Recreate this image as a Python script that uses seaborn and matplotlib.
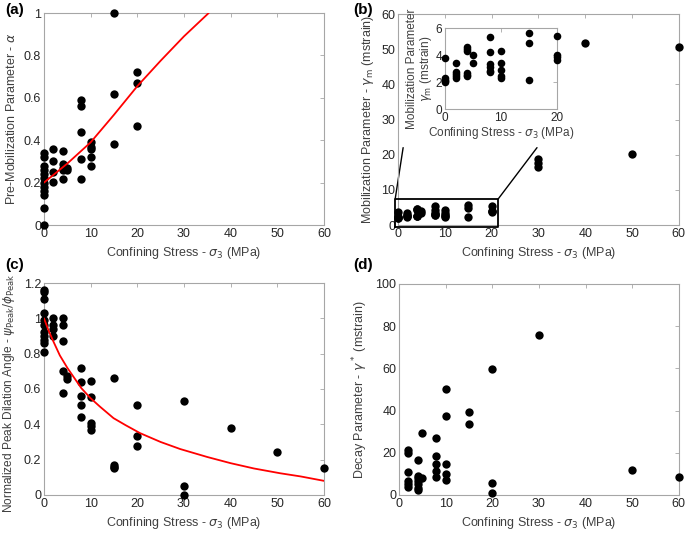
import numpy as np
import pandas as pd
import matplotlib
matplotlib.use('Agg')
import matplotlib.pyplot as plt
from matplotlib.ticker import FuncFormatter
import seaborn as sns

# (a) pre-mobilization parameter alpha
a_sigma = [0]*12 + [2]*4 + [4]*5 + [5]*2 + [8]*5 + [10]*5 + [15]*3 + [20]*3
a_alpha = [0, 0.08, 0.14, 0.16, 0.18, 0.20, 0.22, 0.24, 0.26, 0.28, 0.32, 0.34,
           0.36, 0.30, 0.25, 0.205,
           0.35, 0.29, 0.27, 0.26, 0.215,
           0.27, 0.26,
           0.59, 0.56, 0.44, 0.31, 0.215,
           0.39, 0.37, 0.36, 0.32, 0.28,
           1.0, 0.62, 0.38,
           0.72, 0.67, 0.465]
a_fit_x = [0, 5, 10, 15, 20, 25, 30, 35.3]
a_fit_y = [0.2, 0.29, 0.39, 0.52, 0.655, 0.775, 0.89, 1.0]

# (b) mobilization parameter gamma_m  (low stress part also in inset)
b_in_sigma = [0]*5 + [2]*5 + [4]*6 + [5]*2 + [8]*6 + [10]*5 + [15]*3 + [20]*4
b_in_gamma = [3.8, 2.35, 2.2, 2.1, 2.0,
              3.45, 2.8, 2.65, 2.5, 2.35,
              4.6, 4.45, 4.35, 2.7, 2.55, 2.45,
              4.0, 3.4,
              5.35, 4.25, 3.35, 3.1, 2.85, 2.75,
              4.35, 3.4, 2.9, 2.45, 2.3,
              5.65, 4.95, 2.2,
              5.45, 4.0, 3.85, 3.65]
b_hi_sigma = [30, 30, 30, 40, 50, 60]
b_hi_gamma = [18.7, 17.5, 16.5, 51.7, 20.2, 50.5]

# (c) normalized peak dilation angle
c_sigma = [0]*11 + [2]*4 + [4]*5 + [5]*2 + [8]*5 + [10]*5 + [15]*4 + [20]*3 + [30]*3 + [40, 50, 60]
c_ratio = [1.16, 1.15, 1.11, 1.03, 0.99, 0.96, 0.92, 0.90, 0.88, 0.86, 0.81,
           1.0, 0.96, 0.94, 0.90,
           1.0, 0.96, 0.87, 0.70, 0.575,
           0.675, 0.655,
           0.72, 0.64, 0.56, 0.51, 0.44,
           0.645, 0.555, 0.41, 0.39, 0.37,
           0.665, 0.17, 0.16, 0.15,
           0.51, 0.335, 0.275,
           0.53, 0.053, 0.0,
           0.38, 0.245, 0.155]
c_fit_x = [0, 1, 2, 3.4, 5, 6.3, 8, 9.9, 12, 14.9, 17.5, 20.6, 25, 29.2, 35, 40, 45, 50.6, 55, 60]
c_fit_y = [1.0, 0.93, 0.87, 0.79, 0.72, 0.67, 0.605, 0.55, 0.50, 0.435, 0.395, 0.35,
           0.30, 0.26, 0.215, 0.18, 0.15, 0.123, 0.105, 0.08]

# (d) decay parameter gamma*
d_sigma = [2]*6 + [4]*7 + [5]*2 + [8]*5 + [10]*5 + [15]*2 + [20]*3 + [30, 50, 60]
d_gamma = [21.5, 20, 10.8, 6.5, 5, 3.6,
           16.5, 9, 8, 6.5, 5, 3.5, 2.5,
           29.5, 8,
           27, 18.5, 14.5, 11.5, 8.5,
           50, 37.5, 14.5, 10, 7,
           39.5, 33.6,
           59.6, 5.8, 1.1,
           76, 11.8, 8.7]

sns.set_style('white')
plt.rcParams['font.family'] = ['Liberation Sans', 'DejaVu Sans']
plt.rcParams['mathtext.fontset'] = 'dejavusans'

SPINE = '#a6a6a6'
TXT = '#262626'
XLAB = r'Confining Stress - $\sigma_3$ (MPa)'
fmt = FuncFormatter(lambda v, p: '%g' % round(v, 3))


def style(ax, xlim, ylim, xticks, yticks, fs=9):
    ax.set_xlim(*xlim)
    ax.set_ylim(*ylim)
    ax.set_xticks(xticks)
    ax.set_yticks(yticks)
    ax.xaxis.set_major_formatter(fmt)
    ax.yaxis.set_major_formatter(fmt)
    for s in ax.spines.values():
        s.set_color(SPINE)
        s.set_linewidth(0.8)
    ax.tick_params(direction='in', length=3, width=0.6, color=SPINE,
                   top=True, right=True, labelsize=fs, labelcolor=TXT, pad=2)


def dots(ax, x, y, s=36):
    df = pd.DataFrame({'x': x, 'y': y})
    sns.scatterplot(data=df, x='x', y='y', ax=ax, color='black', s=s,
                    linewidth=0, clip_on=False, zorder=3)


def fitline(ax, x, y):
    df = pd.DataFrame({'x': x, 'y': y})
    sns.lineplot(data=df, x='x', y='y', ax=ax, color='red', lw=1.3,
                 sort=False, estimator=None, zorder=4)


fig = plt.figure(figsize=(6.85, 5.35), dpi=100)

ax_a = fig.add_axes([0.0642, 0.5794, 0.4088, 0.3963])
ax_b = fig.add_axes([0.581, 0.5794, 0.410, 0.3944])
ax_c = fig.add_axes([0.0642, 0.0748, 0.4088, 0.3962])
ax_d = fig.add_axes([0.5825, 0.0748, 0.4085, 0.3944])
ax_in = fig.add_axes([0.6496, 0.7957, 0.164, 0.1513])

# (a)
dots(ax_a, a_sigma, a_alpha)
fitline(ax_a, a_fit_x, a_fit_y)
style(ax_a, (0, 60), (0, 1), range(0, 61, 10), np.arange(0, 1.01, 0.2))
ax_a.set_xlabel(XLAB, fontsize=9, color='#404040')
ax_a.set_ylabel(r'Pre-Mobilization Parameter - $\alpha$', fontsize=9, color='#404040')

# (b)
dots(ax_b, b_in_sigma + b_hi_sigma, b_in_gamma + b_hi_gamma)
style(ax_b, (0, 60), (0, 60), range(0, 61, 10), range(0, 61, 10))
ax_b.set_xlabel(XLAB, fontsize=9, color='#404040')
ax_b.set_ylabel(r'Mobilization Parameter - $\gamma_{\rm m}$ (mstrain)', fontsize=9, color='#404040')
ax_b.plot([-0.6, 21.4, 21.4, -0.6, -0.6], [-0.5, -0.5, 7.4, 7.4, -0.5],
          color='black', lw=1.3, clip_on=False, zorder=5)
ax_b.plot([-0.6, 1.1], [7.4, 22], color='black', lw=1.0, clip_on=False)
ax_b.plot([21.4, 29.7], [7.4, 22], color='black', lw=1.0, clip_on=False)

# inset
dots(ax_in, b_in_sigma, b_in_gamma, s=30)
style(ax_in, (0, 20), (0, 6), [0, 10, 20], [0, 2, 4, 6], fs=8.5)
ax_in.set_xlabel(XLAB, fontsize=8.5, color='#404040', labelpad=1)
ax_in.set_ylabel('Mobilization Parameter\n' + r'$\gamma_{\rm m}$ (mstrain)',
                 fontsize=8.5, color='#404040', labelpad=1, linespacing=1.0)

# (c)
dots(ax_c, c_sigma, c_ratio)
fitline(ax_c, c_fit_x, c_fit_y)
style(ax_c, (0, 60), (0, 1.2), range(0, 61, 10), np.arange(0, 1.21, 0.2))
ax_c.set_xlabel(XLAB, fontsize=9, color='#404040')
ax_c.set_ylabel(r'Normalized Peak Dilation Angle - $\psi_{\rm Peak}/\phi_{\rm Peak}$',
                fontsize=8.6, color='#404040')
ax_c.yaxis.set_label_coords(-0.095, 0.48)

# (d)
dots(ax_d, d_sigma, d_gamma)
style(ax_d, (0, 60), (0, 100), range(0, 61, 10), range(0, 101, 20))
ax_d.set_xlabel(XLAB, fontsize=9, color='#404040')
ax_d.set_ylabel(r'Decay Parameter - $\gamma^*$ (mstrain)', fontsize=9, color='#404040')

for lab, x, y in [('(a)', 0.008, 0.995), ('(b)', 0.515, 0.995),
                  ('(c)', 0.008, 0.517), ('(d)', 0.515, 0.517)]:
    fig.text(x, y, lab, fontsize=11, fontweight='bold', va='top', ha='left', color='black')

fig.savefig('out.png', dpi=100)
